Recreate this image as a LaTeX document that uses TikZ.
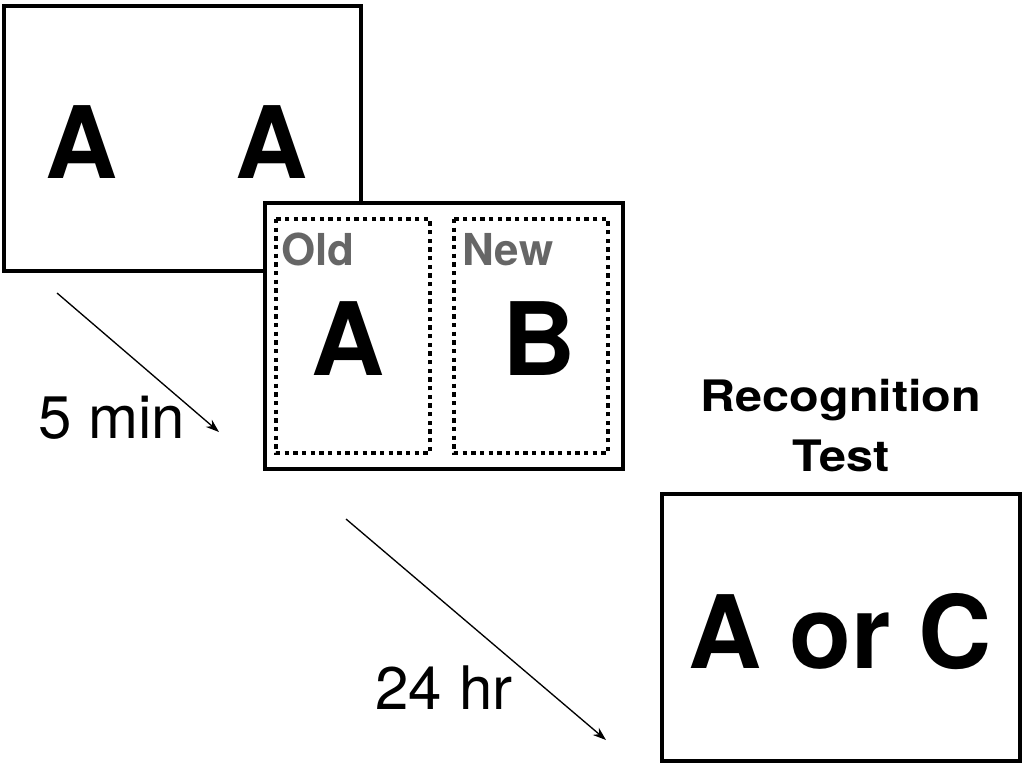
\documentclass[tikz,border=0pt]{standalone}
\usepackage{fontspec}
\setmainfont{TeX Gyre Heros}
\newfontfamily\widefont[FakeStretch=1.12]{TeX Gyre Heros}
\usepackage{tikz}
\usetikzlibrary{positioning, arrows.meta}
\definecolor{taggray}{gray}{0.4}

\begin{document}
\begin{tikzpicture}[x=0.75pt, y=-0.75pt]
    \tikzset{
        screen/.style={draw, line width=3pt, fill=white}, % outer frame of a display
        half/.style={draw, line width=3pt, dash pattern=on 3.2pt off 3.3pt}, % dotted panel
        letter/.style={font=\fontsize{75}{90}\selectfont\bfseries, inner sep=0pt, anchor=base}, % stimulus letters
        tag/.style={font=\fontsize{33}{40}\selectfont\bfseries, text=taggray, inner sep=0pt, anchor=base west}, % Old / New
        delay/.style={font=\fontsize{45}{54}\selectfont, inner sep=0pt, anchor=base}, % time labels
        heading/.style={font=\fontsize{32.5}{40}\widefont\bfseries, inner sep=0pt, anchor=base}, % test heading
        wait/.style={-{Stealth[length=10pt, width=7pt]}, line width=1pt}, % time arrows
    }

    \useasboundingbox (0,0) rectangle (1024,768);

    % study display
    \draw[screen] (4,6) rectangle (361,271);
    \node[letter] (studyL) at (82,178) {A};
    \node[letter] (studyR) at (272,178) {A};

    % interference display
    \draw[screen] (265,203) rectangle (623,469);
    \draw[half] (276,219) rectangle (430,453);
    \draw[half] (454,219) rectangle (608,453);
    \node[tag] (old) at (281,265) {Old};
    \node[tag] (new) at (462,265) {New};
    \node[letter, font=\fontsize{76}{90}\selectfont\bfseries] (oldA) at (348.5,375) {A};
    \node[letter, font=\fontsize{76}{90}\selectfont\bfseries] (newB) at (539,375) {B};

    % test display
    \draw[screen] (662,494) rectangle (1020,761);
    \node[heading] (rec) at (841,411) {Recognition};
    \node[heading] (test) at (841,471) {Test};
    \node[letter, font=\fontsize{76}{90}\selectfont\bfseries] (choice) at (840,668) {A or C};

    % delays
    \coordinate (w1s) at (57,293);
    \coordinate (w1e) at (219,432);
    \coordinate (w2s) at (346,519);
    \coordinate (w2e) at (606,740);
    \draw[wait] (w1s) -- (w1e);
    \draw[wait] (w2s) -- (w2e);
    \node[delay] (short) at (112,438) {5 min};
    \node[delay] (long) at (444,709) {24 hr};
\end{tikzpicture}
\end{document}
